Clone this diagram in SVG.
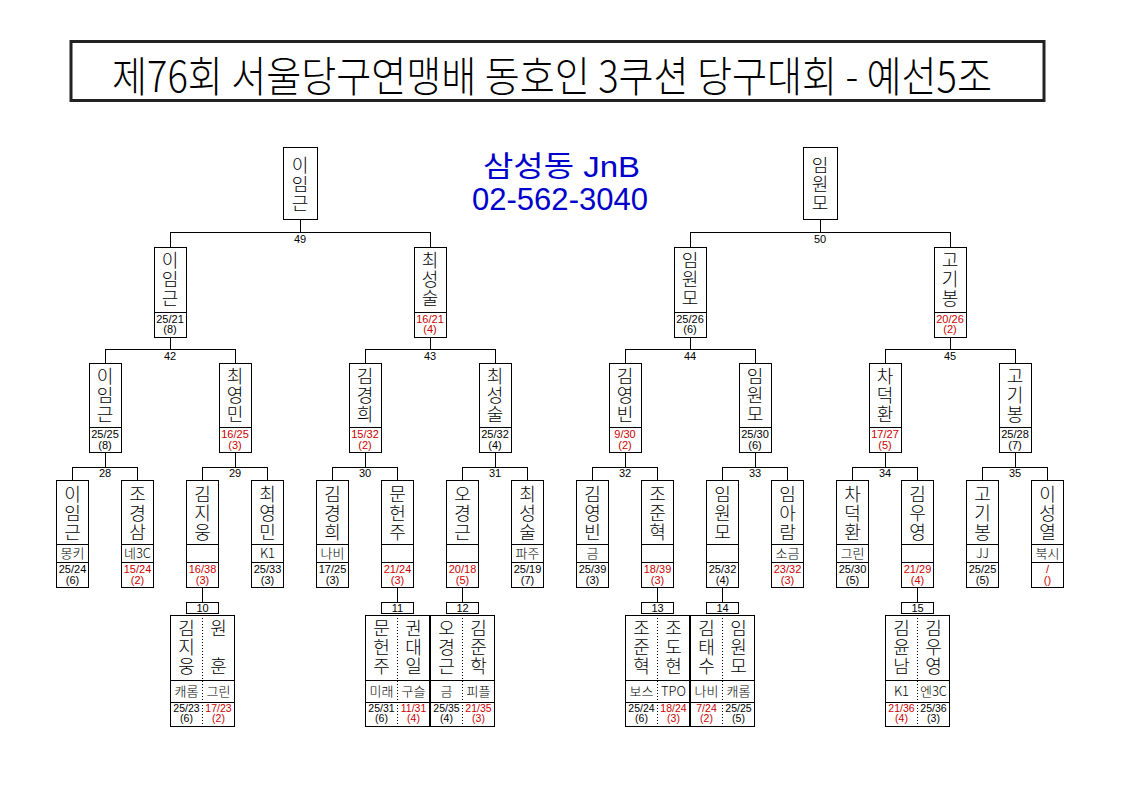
<svg xmlns="http://www.w3.org/2000/svg" width="1123" height="794" viewBox="0 0 1123 794">
<style>
.box{fill:#fff;stroke:#000;stroke-width:1;shape-rendering:crispEdges}
.ln{fill:none;stroke:#000;stroke-width:1;shape-rendering:crispEdges}
.dot{fill:none;stroke:#000;stroke-width:1;stroke-dasharray:1 2;shape-rendering:crispEdges}
.vn{font-family:"Noto Sans CJK KR",sans-serif;font-size:18px;font-weight:300;writing-mode:vertical-rl;letter-spacing:1px;fill:#000}
.cl{font-family:"Noto Sans CJK KR","Liberation Sans",sans-serif;font-size:13px;font-weight:300;text-anchor:middle;fill:#000}
.sc{font-family:"Liberation Sans",sans-serif;font-size:11px;text-anchor:middle;fill:#000}
.sp{font-size:10.5px}
.r{fill:#cc0000}
.num{font-family:"Liberation Sans",sans-serif;font-size:11px;text-anchor:middle;fill:#000}
.blue{font-family:"Liberation Sans","Noto Sans CJK KR",sans-serif;fill:#0000cc}
</style>
<rect width="1123" height="794" fill="#fff"/>
<g id="title">
<rect x="71" y="41.5" width="973" height="59" fill="none" stroke="#222" stroke-width="3"/>
<text x="112" y="92" font-family="Noto Sans CJK KR, sans-serif" font-weight="300" font-size="42" textLength="880" lengthAdjust="spacingAndGlyphs">제76회 서울당구연맹배 동호인 3쿠션 당구대회 - 예선5조</text>
</g>
<g id="info">
<text class="blue" x="483" y="177" font-size="29" textLength="157" lengthAdjust="spacingAndGlyphs">삼성동 JnB</text>
<text class="blue" x="472" y="210" font-size="32" textLength="176" lengthAdjust="spacingAndGlyphs">02-562-3040</text>
</g>
<g id="connectors">
<path class="ln" d="M300 219V232M170 232H430M170 232V247M430 232V247M820 219V232M690 232H950M690 232V247M950 232V247"/>
<path class="ln" d="M170 337V349M105 349H235M105 349V363M235 349V363M430 337V349M365 349H495M365 349V363M495 349V363M690 337V349M625 349H755M625 349V363M755 349V363M950 337V349M885 349H1015M885 349V363M1015 349V363"/>
<path class="ln" d="M105 452V467M72.5 467H137.5M72.5 467V480M137.5 467V480M235 452V467M202.5 467H267.5M202.5 467V480M267.5 467V480M365 452V467M332.5 467H397.5M332.5 467V480M397.5 467V480M495 452V467M462.5 467H527.5M462.5 467V480M527.5 467V480M625 452V467M592.5 467H657.5M592.5 467V480M657.5 467V480M755 452V467M722.5 467H787.5M722.5 467V480M787.5 467V480M885 452V467M852.5 467H917.5M852.5 467V480M917.5 467V480M1015 452V467M982.5 467H1047.5M982.5 467V480M1047.5 467V480"/>
<path class="ln" d="M202.5 587V602M397.5 587V602M462.5 587V602M657.5 587V602M722.5 587V602M917.5 587V602"/>
<text class="num" x="300" y="243">49</text>
<text class="num" x="820" y="243">50</text>
<text class="num" x="170" y="360">42</text>
<text class="num" x="430" y="360">43</text>
<text class="num" x="690" y="360">44</text>
<text class="num" x="950" y="360">45</text>
<text class="num" x="105" y="476.5">28</text>
<text class="num" x="235" y="476.5">29</text>
<text class="num" x="365" y="476.5">30</text>
<text class="num" x="495" y="476.5">31</text>
<text class="num" x="625" y="476.5">32</text>
<text class="num" x="755" y="476.5">33</text>
<text class="num" x="885" y="476.5">34</text>
<text class="num" x="1015" y="476.5">35</text>
</g>

<g id="L1-0"><rect class="box" x="283" y="147" width="34" height="72"/><text class="vn" x="300" y="156">이임근</text></g>
<g id="L1-1"><rect class="box" x="803" y="147" width="34" height="72"/><text class="vn" x="820" y="156">임원모</text></g>

<g id="L2-0"><rect class="box" x="154" y="247" width="32" height="90"/><path class="ln" d="M154 312H186"/><text class="vn" x="170" y="251">이임근</text><text class="sc"><tspan x="170" y="322.5">25/21</tspan><tspan x="170" y="332.5">(8)</tspan></text></g>
<g id="L2-1"><rect class="box" x="414" y="247" width="32" height="90"/><path class="ln" d="M414 312H446"/><text class="vn" x="430" y="251">최성술</text><text class="sc r"><tspan x="430" y="322.5">16/21</tspan><tspan x="430" y="332.5">(4)</tspan></text></g>
<g id="L2-2"><rect class="box" x="674" y="247" width="32" height="90"/><path class="ln" d="M674 312H706"/><text class="vn" x="690" y="251">임원모</text><text class="sc"><tspan x="690" y="322.5">25/26</tspan><tspan x="690" y="332.5">(6)</tspan></text></g>
<g id="L2-3"><rect class="box" x="934" y="247" width="32" height="90"/><path class="ln" d="M934 312H966"/><text class="vn" x="950" y="251">고기봉</text><text class="sc r"><tspan x="950" y="322.5">20/26</tspan><tspan x="950" y="332.5">(2)</tspan></text></g>

<g id="L3-0"><rect class="box" x="89" y="363" width="32" height="89"/><path class="ln" d="M89 427H121"/><text class="vn" x="105" y="367">이임근</text><text class="sc"><tspan x="105" y="438">25/25</tspan><tspan x="105" y="448.5">(8)</tspan></text></g>
<g id="L3-1"><rect class="box" x="219" y="363" width="32" height="89"/><path class="ln" d="M219 427H251"/><text class="vn" x="235" y="367">최영민</text><text class="sc r"><tspan x="235" y="438">16/25</tspan><tspan x="235" y="448.5">(3)</tspan></text></g>
<g id="L3-2"><rect class="box" x="349" y="363" width="32" height="89"/><path class="ln" d="M349 427H381"/><text class="vn" x="365" y="367">김경희</text><text class="sc r"><tspan x="365" y="438">15/32</tspan><tspan x="365" y="448.5">(2)</tspan></text></g>
<g id="L3-3"><rect class="box" x="479" y="363" width="32" height="89"/><path class="ln" d="M479 427H511"/><text class="vn" x="495" y="367">최성술</text><text class="sc"><tspan x="495" y="438">25/32</tspan><tspan x="495" y="448.5">(4)</tspan></text></g>
<g id="L3-4"><rect class="box" x="609" y="363" width="32" height="89"/><path class="ln" d="M609 427H641"/><text class="vn" x="625" y="367">김영빈</text><text class="sc r"><tspan x="625" y="438">9/30</tspan><tspan x="625" y="448.5">(2)</tspan></text></g>
<g id="L3-5"><rect class="box" x="739" y="363" width="32" height="89"/><path class="ln" d="M739 427H771"/><text class="vn" x="755" y="367">임원모</text><text class="sc"><tspan x="755" y="438">25/30</tspan><tspan x="755" y="448.5">(6)</tspan></text></g>
<g id="L3-6"><rect class="box" x="869" y="363" width="32" height="89"/><path class="ln" d="M869 427H901"/><text class="vn" x="885" y="367">차덕환</text><text class="sc r"><tspan x="885" y="438">17/27</tspan><tspan x="885" y="448.5">(5)</tspan></text></g>
<g id="L3-7"><rect class="box" x="999" y="363" width="32" height="89"/><path class="ln" d="M999 427H1031"/><text class="vn" x="1015" y="367">고기봉</text><text class="sc"><tspan x="1015" y="438">25/28</tspan><tspan x="1015" y="448.5">(7)</tspan></text></g>

<g id="L4-0"><rect class="box" x="56.5" y="480" width="32" height="107"/><path class="ln" d="M56.5 544H88.5M56.5 562H88.5"/><text class="vn" x="72.5" y="485">이임근</text><text class="cl" x="72.5" y="557.5">몽키</text><text class="sc"><tspan x="72.5" y="573">25/24</tspan><tspan x="72.5" y="583.5">(6)</tspan></text></g>
<g id="L4-1"><rect class="box" x="121.5" y="480" width="32" height="107"/><path class="ln" d="M121.5 544H153.5M121.5 562H153.5"/><text class="vn" x="137.5" y="485">조경삼</text><text class="cl" x="137.5" y="557.5">네3C</text><text class="sc r"><tspan x="137.5" y="573">15/24</tspan><tspan x="137.5" y="583.5">(2)</tspan></text></g>
<g id="L4-2"><rect class="box" x="186.5" y="480" width="32" height="107"/><path class="ln" d="M186.5 544H218.5M186.5 562H218.5"/><text class="vn" x="202.5" y="485">김지웅</text><text class="sc r"><tspan x="202.5" y="573">16/38</tspan><tspan x="202.5" y="583.5">(3)</tspan></text></g>
<g id="L4-3"><rect class="box" x="251.5" y="480" width="32" height="107"/><path class="ln" d="M251.5 544H283.5M251.5 562H283.5"/><text class="vn" x="267.5" y="485">최영민</text><text class="cl" x="267.5" y="557.5">K1</text><text class="sc"><tspan x="267.5" y="573">25/33</tspan><tspan x="267.5" y="583.5">(3)</tspan></text></g>
<g id="L4-4"><rect class="box" x="316.5" y="480" width="32" height="107"/><path class="ln" d="M316.5 544H348.5M316.5 562H348.5"/><text class="vn" x="332.5" y="485">김경희</text><text class="cl" x="332.5" y="557.5">나비</text><text class="sc"><tspan x="332.5" y="573">17/25</tspan><tspan x="332.5" y="583.5">(3)</tspan></text></g>
<g id="L4-5"><rect class="box" x="381.5" y="480" width="32" height="107"/><path class="ln" d="M381.5 544H413.5M381.5 562H413.5"/><text class="vn" x="397.5" y="485">문헌주</text><text class="sc r"><tspan x="397.5" y="573">21/24</tspan><tspan x="397.5" y="583.5">(3)</tspan></text></g>
<g id="L4-6"><rect class="box" x="446.5" y="480" width="32" height="107"/><path class="ln" d="M446.5 544H478.5M446.5 562H478.5"/><text class="vn" x="462.5" y="485">오경근</text><text class="sc r"><tspan x="462.5" y="573">20/18</tspan><tspan x="462.5" y="583.5">(5)</tspan></text></g>
<g id="L4-7"><rect class="box" x="511.5" y="480" width="32" height="107"/><path class="ln" d="M511.5 544H543.5M511.5 562H543.5"/><text class="vn" x="527.5" y="485">최성술</text><text class="cl" x="527.5" y="557.5">파주</text><text class="sc"><tspan x="527.5" y="573">25/19</tspan><tspan x="527.5" y="583.5">(7)</tspan></text></g>
<g id="L4-8"><rect class="box" x="576.5" y="480" width="32" height="107"/><path class="ln" d="M576.5 544H608.5M576.5 562H608.5"/><text class="vn" x="592.5" y="485">김영빈</text><text class="cl" x="592.5" y="557.5">금</text><text class="sc"><tspan x="592.5" y="573">25/39</tspan><tspan x="592.5" y="583.5">(3)</tspan></text></g>
<g id="L4-9"><rect class="box" x="641.5" y="480" width="32" height="107"/><path class="ln" d="M641.5 544H673.5M641.5 562H673.5"/><text class="vn" x="657.5" y="485">조준혁</text><text class="sc r"><tspan x="657.5" y="573">18/39</tspan><tspan x="657.5" y="583.5">(3)</tspan></text></g>
<g id="L4-10"><rect class="box" x="706.5" y="480" width="32" height="107"/><path class="ln" d="M706.5 544H738.5M706.5 562H738.5"/><text class="vn" x="722.5" y="485">임원모</text><text class="sc"><tspan x="722.5" y="573">25/32</tspan><tspan x="722.5" y="583.5">(4)</tspan></text></g>
<g id="L4-11"><rect class="box" x="771.5" y="480" width="32" height="107"/><path class="ln" d="M771.5 544H803.5M771.5 562H803.5"/><text class="vn" x="787.5" y="485">임아람</text><text class="cl" x="787.5" y="557.5">소금</text><text class="sc r"><tspan x="787.5" y="573">23/32</tspan><tspan x="787.5" y="583.5">(3)</tspan></text></g>
<g id="L4-12"><rect class="box" x="836.5" y="480" width="32" height="107"/><path class="ln" d="M836.5 544H868.5M836.5 562H868.5"/><text class="vn" x="852.5" y="485">차덕환</text><text class="cl" x="852.5" y="557.5">그린</text><text class="sc"><tspan x="852.5" y="573">25/30</tspan><tspan x="852.5" y="583.5">(5)</tspan></text></g>
<g id="L4-13"><rect class="box" x="901.5" y="480" width="32" height="107"/><path class="ln" d="M901.5 544H933.5M901.5 562H933.5"/><text class="vn" x="917.5" y="485">김우영</text><text class="sc r"><tspan x="917.5" y="573">21/29</tspan><tspan x="917.5" y="583.5">(4)</tspan></text></g>
<g id="L4-14"><rect class="box" x="966.5" y="480" width="32" height="107"/><path class="ln" d="M966.5 544H998.5M966.5 562H998.5"/><text class="vn" x="982.5" y="485">고기봉</text><text class="cl" x="982.5" y="557.5">JJ</text><text class="sc"><tspan x="982.5" y="573">25/25</tspan><tspan x="982.5" y="583.5">(5)</tspan></text></g>
<g id="L4-15"><rect class="box" x="1031.5" y="480" width="32" height="107"/><path class="ln" d="M1031.5 544H1063.5M1031.5 562H1063.5"/><text class="vn" x="1047.5" y="485">이성열</text><text class="cl" x="1047.5" y="557.5">북시</text><text class="sc r"><tspan x="1047.5" y="573">/</tspan><tspan x="1047.5" y="583.5">()</tspan></text></g>

<g id="P10"><rect class="box" x="186.5" y="602" width="32" height="11"/><text class="num" x="202.5" y="611.5">10</text><rect class="box" x="170.5" y="615" width="64" height="111"/><path class="ln" d="M170.5 680H234.5M170.5 702H234.5"/><path class="dot" d="M202.5 615V726"/><text class="vn" x="186.5" y="619">김지웅</text><text class="vn" x="218.5" y="619">원</text><text class="vn" x="218.5" y="657">훈</text><text class="cl" x="186.5" y="696">캐롬</text><text class="cl" x="218.5" y="696">그린</text><text class="sc sp"><tspan x="186.5" y="712">25/23</tspan><tspan x="186.5" y="722">(6)</tspan></text><text class="sc sp r"><tspan x="218.5" y="712">17/23</tspan><tspan x="218.5" y="722">(2)</tspan></text></g>
<g id="P11"><rect class="box" x="381.5" y="602" width="32" height="11"/><text class="num" x="397.5" y="611.5">11</text><rect class="box" x="365.5" y="615" width="64" height="111"/><path class="ln" d="M365.5 680H429.5M365.5 702H429.5"/><path class="dot" d="M397.5 615V726"/><text class="vn" x="381.5" y="619">문헌주</text><text class="vn" x="413.5" y="619">권대일</text><text class="cl" x="381.5" y="696">미래</text><text class="cl" x="413.5" y="696">구슬</text><text class="sc sp"><tspan x="381.5" y="712">25/31</tspan><tspan x="381.5" y="722">(6)</tspan></text><text class="sc sp r"><tspan x="413.5" y="712">11/31</tspan><tspan x="413.5" y="722">(4)</tspan></text></g>
<g id="P12"><rect class="box" x="446.5" y="602" width="32" height="11"/><text class="num" x="462.5" y="611.5">12</text><rect class="box" x="430" y="615" width="64" height="111"/><path class="ln" d="M430 680H494M430 702H494"/><path class="dot" d="M462.5 615V726"/><text class="vn" x="446.5" y="619">오경근</text><text class="vn" x="478.5" y="619">김준학</text><text class="cl" x="446.5" y="696">금</text><text class="cl" x="478.5" y="696">피플</text><text class="sc sp"><tspan x="446.5" y="712">25/35</tspan><tspan x="446.5" y="722">(4)</tspan></text><text class="sc sp r"><tspan x="478.5" y="712">21/35</tspan><tspan x="478.5" y="722">(3)</tspan></text></g>
<g id="P13"><rect class="box" x="641.5" y="602" width="32" height="11"/><text class="num" x="657.5" y="611.5">13</text><rect class="box" x="625.5" y="615" width="64" height="111"/><path class="ln" d="M625.5 680H689.5M625.5 702H689.5"/><path class="dot" d="M657.5 615V726"/><text class="vn" x="641.5" y="619">조준혁</text><text class="vn" x="673.5" y="619">조도현</text><text class="cl" x="641.5" y="696">보스</text><text class="cl" x="673.5" y="696">TPO</text><text class="sc sp"><tspan x="641.5" y="712">25/24</tspan><tspan x="641.5" y="722">(6)</tspan></text><text class="sc sp r"><tspan x="673.5" y="712">18/24</tspan><tspan x="673.5" y="722">(3)</tspan></text></g>
<g id="P14"><rect class="box" x="706.5" y="602" width="32" height="11"/><text class="num" x="722.5" y="611.5">14</text><rect class="box" x="690" y="615" width="64" height="111"/><path class="ln" d="M690 680H754M690 702H754"/><path class="dot" d="M722.5 615V726"/><text class="vn" x="706.5" y="619">김태수</text><text class="vn" x="738.5" y="619">임원모</text><text class="cl" x="706.5" y="696">나비</text><text class="cl" x="738.5" y="696">캐롬</text><text class="sc sp r"><tspan x="706.5" y="712">7/24</tspan><tspan x="706.5" y="722">(2)</tspan></text><text class="sc sp"><tspan x="738.5" y="712">25/25</tspan><tspan x="738.5" y="722">(5)</tspan></text></g>
<g id="P15"><rect class="box" x="901.5" y="602" width="32" height="11"/><text class="num" x="917.5" y="611.5">15</text><rect class="box" x="885.5" y="615" width="64" height="111"/><path class="ln" d="M885.5 680H949.5M885.5 702H949.5"/><path class="dot" d="M917.5 615V726"/><text class="vn" x="901.5" y="619">김윤남</text><text class="vn" x="933.5" y="619">김우영</text><text class="cl" x="901.5" y="696">K1</text><text class="cl" x="933.5" y="696">엔3C</text><text class="sc sp r"><tspan x="901.5" y="712">21/36</tspan><tspan x="901.5" y="722">(4)</tspan></text><text class="sc sp"><tspan x="933.5" y="712">25/36</tspan><tspan x="933.5" y="722">(3)</tspan></text></g>
</svg>
